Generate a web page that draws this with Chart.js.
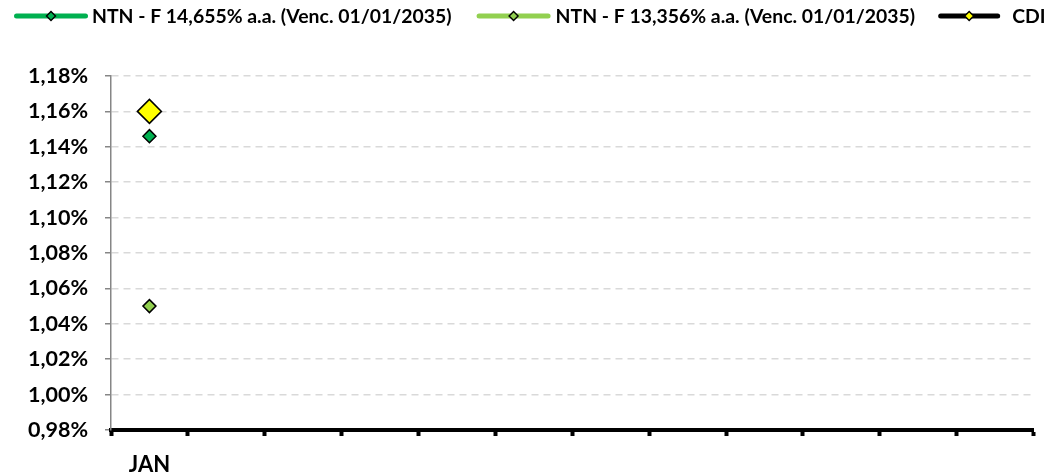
<!DOCTYPE html>
<html>
<head>
<meta charset="utf-8">
<script src="https://cdn.jsdelivr.net/npm/chart.js@4.4.1/dist/chart.umd.min.js"></script>
<style>
  html, body { margin: 0; padding: 0; background: #fff; }
  #wrap { width: 1047px; height: 473px; position: relative; }
</style>
</head>
<body>
<div id="wrap"><canvas id="c"></canvas></div>
<script>
// ── data ───────────────────────────────────────────────
const categories = ['JAN', '', '', '', '', '', '', '', '', '', '', ''];
const ntnF14 = [1.146, null, null, null, null, null, null, null, null, null, null, null];
const ntnF13 = [1.050, null, null, null, null, null, null, null, null, null, null, null];
const cdi    = [1.160, null, null, null, null, null, null, null, null, null, null, null];
const yMin = 0.98, yMax = 1.18, yStep = 0.02;

const FONT = 'Lato, "Open Sans", sans-serif';
const GREEN = '#00B050', LIGHT = '#92D050', YELLOW = '#FFFF00';

const datasets = [
  { label: 'NTN - F 14,655% a.a. (Venc. 01/01/2035)', data: ntnF14, borderColor: GREEN,
    pointBackgroundColor: GREEN, pointRadius: 6.5 },
  { label: 'NTN - F 13,356% a.a. (Venc. 01/01/2035)', data: ntnF13, borderColor: LIGHT,
    pointBackgroundColor: LIGHT, pointRadius: 6.5 },
  { label: 'CDI', data: cdi, borderColor: '#000',
    pointBackgroundColor: YELLOW, pointRadius: 12 },
].map(d => Object.assign(d, {
  pointStyle: 'rectRot', pointBorderColor: '#000', pointBorderWidth: 1.5,
  borderWidth: 5, spanGaps: false,
}));

// ── Excel-style legend: thick line + small diamond, then bold text ──
const excelLegend = {
  id: 'excelLegend',
  afterDraw(chart, args, o) {
    const ctx = chart.ctx;
    ctx.save();
    ctx.font = `bold ${o.size}px ${FONT}`;
    ctx.textBaseline = 'middle';
    let x = o.left;
    const y = o.y;
    chart.data.datasets.forEach((ds, i) => {
      const L = o.lineLen[i];
      ctx.strokeStyle = ds.borderColor; ctx.lineWidth = 5; ctx.lineCap = 'round';
      ctx.beginPath(); ctx.moveTo(x + 2.5, y); ctx.lineTo(x + L - 2.5, y); ctx.stroke();
      const cx = x + L / 2, r = 4.5;
      ctx.beginPath();
      ctx.moveTo(cx - r, y); ctx.lineTo(cx, y - r); ctx.lineTo(cx + r, y); ctx.lineTo(cx, y + r);
      ctx.closePath();
      ctx.fillStyle = ds.pointBackgroundColor; ctx.fill();
      ctx.lineWidth = 1.4; ctx.strokeStyle = '#000'; ctx.stroke();
      x += L + o.textGap[i];
      ctx.fillStyle = '#000';
      ctx.fillText(ds.label, x, y + 1);
      x += ctx.measureText(ds.label).width + (o.itemGap[i] || 0);
    });
    ctx.restore();
  }
};

new Chart(document.getElementById('c'), {
  type: 'line',
  data: { labels: categories, datasets },
  plugins: [excelLegend],
  options: {
    responsive: true, maintainAspectRatio: false, animation: false,
    layout: { padding: { left: 0, right: 10, top: 76, bottom: 0 } },
    plugins: {
      tooltip: { enabled: false },
      legend: { display: false },
      excelLegend: { left: 14, y: 16, size: 19.4, lineLen: [74, 74, 62], textGap: [4, 5, 12], itemGap: [25, 23] },
    },
    scales: {
      x: {
        offset: true,
        grid: { offset: true, drawOnChartArea: false, tickLength: 6, tickWidth: 4, tickColor: '#000' },
        border: { color: '#000', width: 4 },
        ticks: { color: '#000', padding: 16, maxRotation: 0, autoSkip: false,
                 font: { family: FONT, size: 22, weight: 'bold' } },
        afterFit: (s) => { s.height = 43; },
      },
      y: {
        min: yMin, max: yMax,
        grid: { color: '#d9d9d9', lineWidth: 1.5, tickColor: '#868686', tickLength: 6 },
        border: { color: '#868686', width: 1.5, dash: [7, 5] },
        ticks: {
          stepSize: yStep, color: '#000', padding: 17,
          font: { family: FONT, size: 21.5, weight: 'bold' },
          callback: (v) => v.toFixed(2).replace('.', ',') + '%',
        },
        afterFit: (s) => { s.width = 111; },
      },
    },
  },
});
</script>
</body>
</html>
